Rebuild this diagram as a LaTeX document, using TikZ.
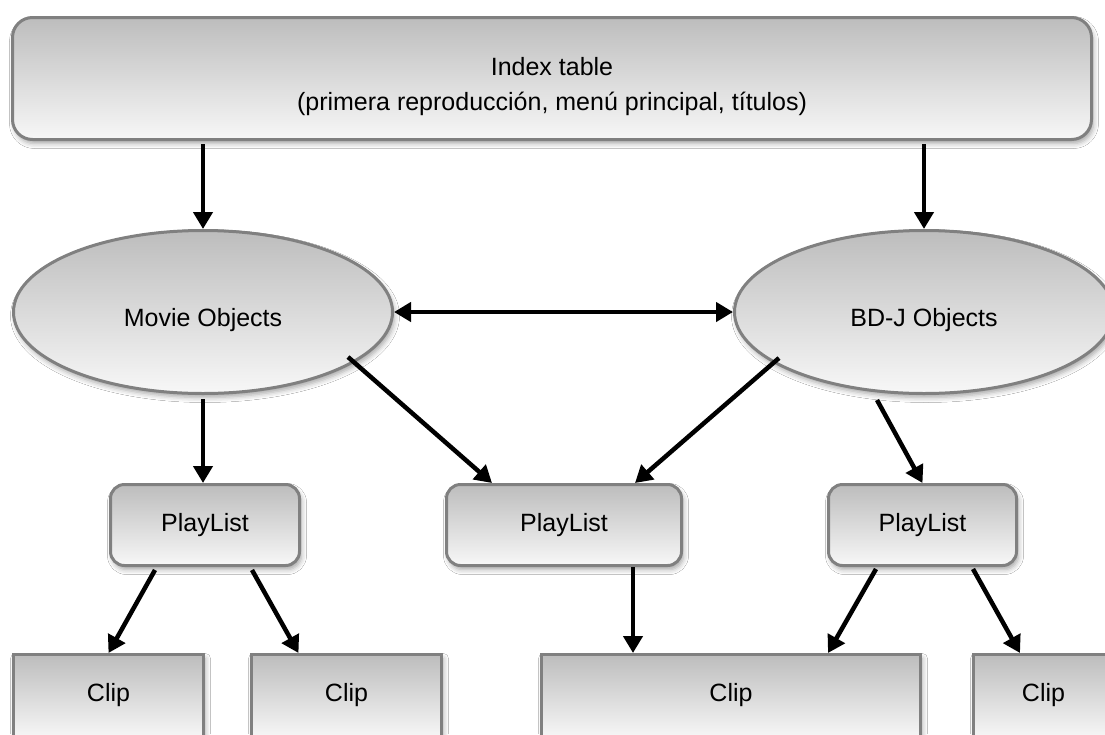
\documentclass[tikz,border=0pt]{standalone}
\usepackage{fontspec}
\setmainfont{Liberation Sans}
\usetikzlibrary{arrows.meta,shapes.geometric,shadows.blur}
\begin{document}
\begin{tikzpicture}[x=1pt,y=-1pt,
  every node/.style={font=\fontsize{25}{35}\selectfont, inner sep=0pt, text=black},
  shape3d/.style={draw=black!50, line width=3pt, top color=black!26, bottom color=black!3,
    blur shadow={shadow xshift=2pt, shadow yshift=-4pt, shadow blur radius=5pt, shadow opacity=35}},
  topbox/.style={shape3d, rectangle, rounded corners=20pt, minimum width=1079pt,
    minimum height=122pt, align=center, text height=68.25pt, text depth=5.25pt},
  objoval/.style={shape3d, ellipse, minimum width=379pt, minimum height=163pt,
    text height=34.25pt, text depth=5.25pt},
  plbox/.style={shape3d, rectangle, rounded corners=14pt, minimum height=81pt},
  clipbox/.style={shape3d, rectangle, minimum height=84pt, text height=15.5pt, text depth=5.25pt},
  link/.style={line width=4.5pt, -{Triangle[width=19pt,length=17pt]}},
  duallink/.style={line width=4.5pt, {Triangle[width=19pt,length=17pt]}-{Triangle[width=19pt,length=17pt]}},
]
\useasboundingbox (0,0) rectangle (1105,734);
\clip (0,0) rectangle (1105,734);
\fill[white] (0,0) rectangle (1105,734);

% index table
\node[topbox] (idx) at (552,78.5)
  {Index table\\(primera reproducción, menú principal, títulos)};

% object layers
\node[objoval] (mo) at (203,312) {Movie Objects};
\node[objoval] (bd) at (924,312) {BD-J Objects};

% playlists
\node[plbox, minimum width=189pt] (pl1) at (205,525) {PlayList};
\node[plbox, minimum width=235pt] (pl2) at (564,525) {PlayList};
\node[plbox, minimum width=188pt] (pl3) at (922.5,525) {PlayList};

% clips
\node[clipbox, minimum width=190pt] (c1) at (108.5,696.5) {Clip};
\node[clipbox, minimum width=190pt] (c2) at (346.5,696.5) {Clip};
\node[clipbox, minimum width=379pt] (c3) at (731,696.5) {Clip};
\node[clipbox, minimum width=140pt] (c4) at (1043.5,696.5) {Clip};

% connectors
\draw[link, shorten <=3pt] (idx.south -| mo.north) -- (mo.north);
\draw[link, shorten <=3pt] (idx.south -| bd.north) -- (bd.north);
\draw[duallink] (mo.east) -- (bd.west);
\draw[link] ([shift={(145,45)}]mo.center) -- ([xshift=-72pt]pl2.north);
\draw[link] ([shift={(-145,46)}]bd.center) -- ([xshift=71pt]pl2.north);
\draw[link] ([shift={(-47,88)}]bd.center) -- (pl3.north);
\draw[link, shorten <=4pt] (mo.south) -- (mo.south |- pl1.north);
\draw[link] ([shift={(-50,45)}]pl1.center) -- (c1.north);
\draw[link] ([shift={(47,45)}]pl1.center) -- ([xshift=-48pt]c2.north);
\draw[link] ([xshift=69pt]pl2.south) -- ([xshift=-98pt]c3.north);
\draw[link] ([shift={(-46.5,44)}]pl3.center) -- ([xshift=97pt]c3.north);
\draw[link] ([shift={(50.5,44)}]pl3.center) -- ([xshift=-23.5pt]c4.north);
\end{tikzpicture}
\end{document}
